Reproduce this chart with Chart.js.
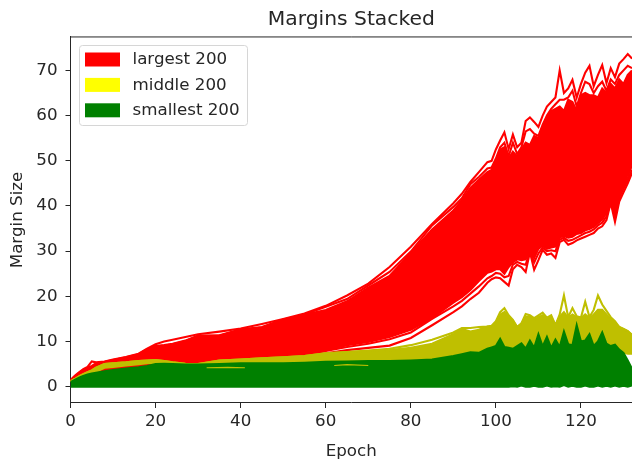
<!DOCTYPE html>
<html>
<head>
<meta charset="utf-8">
<style>
html,body{margin:0;padding:0;background:#fff;overflow:hidden}
canvas{display:block;filter:blur(0.45px)}
</style>
<script src="https://cdn.jsdelivr.net/npm/chart.js@4/dist/chart.umd.min.js"></script>
</head>
<body>
<canvas id="c" width="632" height="462"></canvas>
<script>
const chartTitle = "Margins Stacked";
const xTitle = "Epoch";
const yTitle = "Margin Size";
const xTicks = [0,20,40,60,80,100,120];
const yTicks = [0,10,20,30,40,50,60,70];
const legendLabels = ["largest 200","middle 200","smallest 200"];
const legendColors = ["#ff0000","#ffff00","#008000"];

const epochs = [0,1,2,3,4,5,6,8,10,13,16,18,20,22,24,27,30,35,40,45,50,55,60,65,70,75,80,85,90,92,94,96,98,
 99,100,101,102,103,104,105,106,107,108,109,110,111,112,113,114,115,116,117,118,119,120,121,122,123,124,125,126,127,128,129,130,131,132];

const redTop = [1.5,2.4,3.2,3.9,4.4,5.6,5.4,5.6,6,6.6,7.3,8.4,9.4,10,10.4,11,11.6,12.2,12.9,13.9,15,16.2,17.9,20.2,22.8,26.5,31,36,40.6,42.7,45.3,47.5,49.7,
 50,52.5,54.5,56.3,52.6,55.8,53,54,58.8,59.6,58.6,57.5,60,62,63,64,70,65,66,67.9,64,67,69.5,71,66.5,69,71.2,67.2,70.5,68.5,71.5,72.5,73.6,72.6];
const redSecond = [1.4,2.2,3,3.7,4.2,4.6,5.2,5.5,5.9,6.5,7.2,8.3,9,9.2,9.5,10.2,11.3,11.4,12.7,13.2,14.9,16,17.7,19.4,22.4,25.4,29.9,35.7,39.8,41.7,44.8,46.4,48.3,
 48.5,50.5,53,54,51,54,51.5,53,56.5,57,56,55.5,58,60,61.5,62.5,63.5,63.5,64,65.5,62,65,67.5,67,65,66.5,67.5,65.5,68,67,69,70,71,70.5];
const redBandTop = [1.3,2.1,2.9,3.5,4,4.4,5,5.4,5.8,6.4,7.1,8.2,8.9,9.1,9.4,10.1,11.2,11.3,12.6,13.1,14.8,15.9,17,18.9,21.9,24.5,29.6,34.8,39,41.2,44,45.8,47.5,
 48,50,52.5,53,50.5,52,51,52.5,54,53.5,55.5,55,57.5,59.5,61,61.5,62,61,63.5,63,61,64.5,65,64.5,64.5,64,66,65,67,66,68,67,69,70];
const redBandBottom = [1.3,1.9,2.4,2.8,3.1,3.4,3.6,3.9,4,4.2,4.5,4.8,4.9,4.9,5,5.1,5.2,5.6,5.9,6.2,6.5,6.9,8,9.2,9.9,11,12.6,15.2,18.6,19.8,21.4,23.4,25.2,
 25.5,26,26,25,26.5,27.5,28.2,28,28.2,30.5,28.5,30.5,31.2,30.5,30.8,31,33,33.4,33,33.2,33.8,34,34.6,34.9,35.4,36.2,37,38.5,41.2,38.5,42.5,44.5,46.5,49];
const redBottom2 = [1.3,1.8,2.3,2.7,3,3.2,3.4,3.7,3.8,4,4.3,4.6,4.7,4.7,4.8,5,5.1,5.5,5.8,6.1,6.4,6.7,7.9,8.8,9.5,10.5,12,15,17.8,19,20.6,22.2,24,
 24.5,25.2,25,24.2,24.5,27,27.6,27.2,27,30,27.5,29.5,30.8,30,30.2,30,32.5,33,32.3,32.5,33,33.5,34,34.3,34.8,35.7,36.3,37.7,41,37.5,41.8,43.8,45.8,48];
const redBottom = [1.3,1.8,2.3,2.6,2.9,3.1,3.3,3.6,3.7,3.9,4.2,4.5,4.6,4.6,4.7,4.9,5,5.4,5.7,6,6.3,6.6,7.4,8.1,8.6,9.1,10.8,13.6,16.5,17.8,19.4,20.8,23,
 23.8,24.2,24,23.2,22.4,26,27,26.5,25.4,29.8,25.9,28,30.3,29.2,29.5,28.5,32,32.5,31.4,31.8,32.4,32.8,33.2,33.6,34,35,35.5,36.9,40.7,36.5,41,43,45,47.3];

const yellowTop = [1.2,1.7,2.3,2.8,3.2,3.6,4.2,5,5.2,5.4,5.7,5.8,5.9,5.7,5.4,5.1,5,5.8,6,6.3,6.5,6.8,7.4,7.7,8,8.4,9.2,10.4,12,13,13,13.2,13.3,
 13.5,14.5,16.5,17.4,15.8,14.8,13.2,14,16.1,15.8,15.2,15.8,16.4,15.3,15.8,13.6,16,20.2,15.4,17.4,15.6,15.3,18.8,15.4,17,20.2,18.2,16.8,15.4,14.5,13.2,12.8,12.3,11.5];
const yellowBand = [1.2,1.7,2.3,2.8,3.2,3.6,4.2,5,5.2,5.4,5.7,5.8,5.9,5.7,5.4,5.1,5,5.8,6,6.3,6.5,6.8,7.4,7.7,7.9,8.1,8.6,9.5,11.6,12.8,12.2,12.6,13.3,
 13.3,14.2,16,16.5,15.5,14.6,13.2,14,15.5,15.6,14.8,15.4,15.8,15,15.5,13.6,15.5,16.5,15.2,16,15.4,15.2,16,15.2,16,17,17,16,15,14.2,13.2,12.8,12.3,11.5];
const yellowLow = [1.1,1.6,2.1,2.5,2.8,3,3.3,4.2,4.4,4.7,5,5.2,5.3,5.2,5.1,4.9,4.9,5,5,5,5,5,5,5,5,5,5,5,5,5,5,5,5,
 5,5,5,5,5,5,5,5,5,5,5,5,5,5,5,5,5,5,5,5,5,5,5,5,5,5,5,5,5,6,8,7.5,7.3,7.3];

const greenTop = [1,1.5,2,2.4,2.7,2.9,3.1,3.4,3.7,4,4.3,4.6,5,5.1,5,4.9,4.9,5,5.2,5.2,5.2,5.3,5.5,5.6,5.7,5.7,5.8,6,6.8,7.2,7.6,7.5,8.4,
 8.7,9,10.6,8.8,8.6,8.4,9,9.6,8.4,10.2,8.6,11.6,8.9,11,8.6,10.4,8.8,12.2,9.4,9.2,13.6,10,10.2,11.6,9,10,12,9.5,9,9.3,8.2,7.5,5.8,4];
const greenLow = [0,0,0,0,0,0,0,0,0,0,0,0,0,0,0,0,0,0,0,0,0,0,0,0,0,0,0,0,0,0,0,0,0,
 0,0,0,0,0,0.1,0,0.3,0,0,0.2,0,0,0.3,0,0.1,0,0.4,0,0.2,0,0,0.3,0,0,0.3,0,0.2,0,0.3,0,0.2,0,0.3];

const streakA_e = [32,37,41], streakA_v = [4.2,4.3,4.2];
const streakB_e = [62,65,70], streakB_v = [4.7,4.9,4.7];

const RED = "#ff0000", YEL = "#bfbf00", GRN = "#008000", INK = "#262626";
const FONT = "'DejaVu Sans'";
const TICK = 16.7;

function line(values, color, order, fillIdx, xs, width){
  const ex = xs || epochs;
  return {
    data: values.map((v,i)=>({x:ex[i],y:v})),
    borderColor: color, backgroundColor: color, borderWidth: width || 2.1,
    pointRadius: 0, tension: 0, order: order,
    fill: fillIdx===undefined ? false : {target: fillIdx}
  };
}

const insideLegend = {
  id:'insideLegend',
  afterDraw(chart){
    const a = chart.chartArea, c = chart.ctx;
    c.save();
    c.strokeStyle = INK; c.lineWidth = 1;
    c.beginPath();
    c.moveTo(a.left, a.top); c.lineTo(a.right, a.top);
    c.stroke();
    c.fillStyle = "#fff"; c.strokeStyle = "#d6d6d6"; c.lineWidth = 1;
    c.beginPath(); c.roundRect(79.5,45.5,168,80,3); c.fill(); c.stroke();
    c.font = TICK+"px "+FONT; c.textBaseline = "middle"; c.textAlign = "left";
    legendLabels.forEach((t,i)=>{
      const y = 59.5 + i*25.4;
      c.fillStyle = legendColors[i];
      c.fillRect(85, y-7, 35, 14);
      c.fillStyle = INK;
      c.fillText(t, 132.5, y+0.5);
    });
    c.restore();
  }
};

new Chart(document.getElementById('c'), {
  type:'line',
  data:{datasets:[
    line(redTop,RED,6),
    line(redSecond,RED,6),
    line(redBandTop,RED,6,3),
    line(redBandBottom,RED,6),
    line(redBottom2,RED,6),
    line(redBottom,RED,6),
    line(yellowTop,YEL,4),
    line(yellowBand,YEL,4,8),
    line(yellowLow,YEL,4),
    line(greenTop,GRN,2,10),
    line(greenLow,GRN,2),
    line(streakA_v,YEL,1,undefined,streakA_e,1.2),
    line(streakB_v,YEL,1,undefined,streakB_e,1.2)
  ]},
  options:{
    responsive:false, animation:false, devicePixelRatio:1,
    layout:{padding:{left:0,right:0,top:0,bottom:0}},
    plugins:{
      legend:{display:false},
      tooltip:{enabled:false},
      title:{display:true,text:chartTitle,color:INK,fullSize:false,
        font:{family:FONT,size:20.3,weight:'normal'},padding:{top:8,bottom:4.6}}
    },
    scales:{
      x:{type:'linear',min:0,max:132,
        afterFit(s){s.height=59;},
        afterBuildTicks(s){s.ticks=xTicks.map(v=>({value:v}));},
        border:{color:INK,width:1},
        grid:{drawOnChartArea:false,drawTicks:true,tickLength:5,color:INK},
        ticks:{color:INK,font:{family:FONT,size:TICK},maxRotation:0,padding:4,autoSkip:false},
        title:{display:true,text:xTitle,color:INK,font:{family:FONT,size:TICK},padding:{top:0,bottom:0}}
      },
      y:{type:'linear',min:-3.6,max:77.4,
        afterFit(s){s.width=70.5;},
        afterBuildTicks(s){s.ticks=yTicks.map(v=>({value:v}));},
        border:{color:INK,width:1},
        grid:{drawOnChartArea:false,drawTicks:true,tickLength:5,color:INK},
        ticks:{color:INK,font:{family:FONT,size:TICK},padding:8,autoSkip:false},
        title:{display:true,text:yTitle,color:INK,font:{family:FONT,size:TICK},padding:{top:8,bottom:0}}
      }
    }
  },
  plugins:[insideLegend]
});
</script>
</body>
</html>
